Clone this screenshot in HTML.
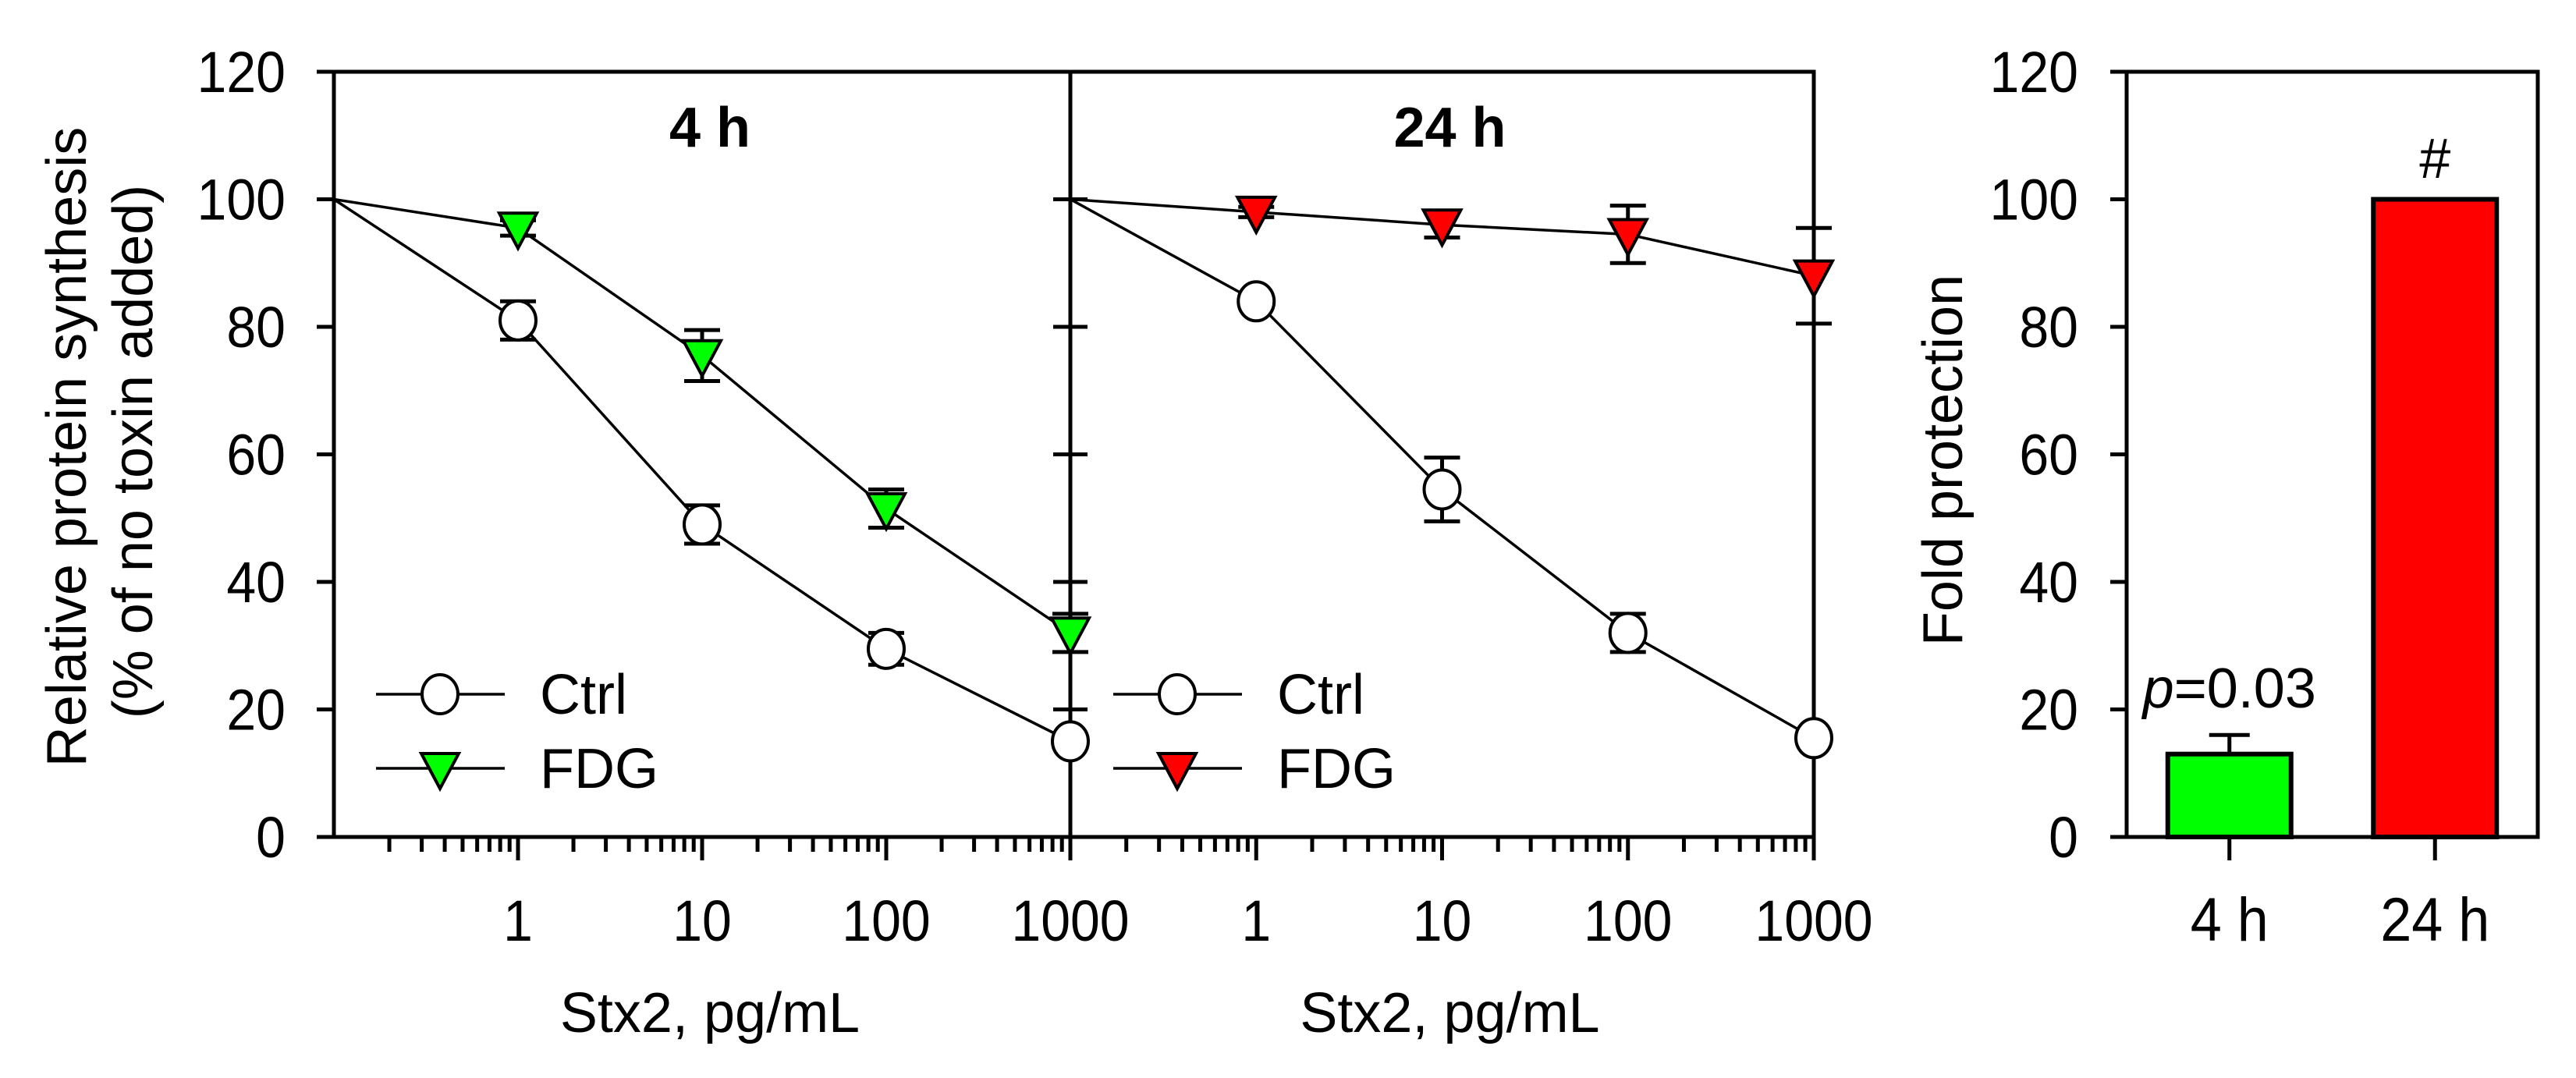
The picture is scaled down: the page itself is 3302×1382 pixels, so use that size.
<!DOCTYPE html>
<html><head><meta charset="utf-8"><style>
html,body{margin:0;padding:0;background:#fff;}
svg{display:block;font-family:"Liberation Sans",Arial,sans-serif;}
</style></head><body>
<svg id="chart" width="3302" height="1382" viewBox="0 0 3302 1382" xmlns="http://www.w3.org/2000/svg"></svg>
<script>
// ---- data ----
const doses = [0.1, 1, 10, 100, 1000];
const ctrl4 = [100, 81, 49, 29.5, 15];
const ctrl4Err = [0, 3, 3, 2.5, 1];
const fdg4 = [100, 95.5, 75.5, 51.5, 32];
const fdg4Err = [0, 1.2, 4, 3, 3];
const ctrl24 = [100, 84, 54.5, 32, 15.5];
const ctrl24Err = [0, 1, 5, 3, 1];
const fdg24 = [100, 98, 96, 94.5, 88];
const fdg24Err = [0, 0.8, 2, 4.5, 7.5];
const barCats = ["4 h", "24 h"];
const barVals = [13, 100];
const barErr = [3, 0];
const yTicks = [0, 20, 40, 60, 80, 100, 120];
const xTickLabels = ["1", "10", "100", "1000"];

const NS = "http://www.w3.org/2000/svg";
const svg = document.getElementById("chart");
function el(tag, attrs, parent) {
  const e = document.createElementNS(NS, tag);
  for (const k in attrs) e.setAttribute(k, attrs[k]);
  (parent || svg).appendChild(e);
  return e;
}
function txt(x, y, s, size, anchor, parent, extra, sy) {
  const t = el("text", Object.assign({x: 0, y: 0, "font-size": size, "text-anchor": anchor || "middle",
    transform: "translate(" + x + "," + y + ") scale(1," + (sy || 1) + ")"}, extra || {}), parent);
  t.textContent = s;
  return t;
}
const DF = 68, DSY = 1.09, TF = 72;
const Y0 = 1073, Y120 = 92;
function yS(v) { return Y0 - (Y0 - Y120) * v / 120; }
const panels = [
  {left: 428, right: 1372, title: "4 h", ctrl: ctrl4, ctrlErr: ctrl4Err, fdg: fdg4, fdgErr: fdg4Err, color: "#00ff00", legX: 482},
  {left: 1372, right: 2325, title: "24 h", ctrl: ctrl24, ctrlErr: ctrl24Err, fdg: fdg24, fdgErr: fdg24Err, color: "#ff0000", legX: 1427}
];
const SW = 5;
const axes = el("g", {stroke: "#000", "stroke-width": SW, fill: "none"});


el("rect", {x: 428, y: Y120, width: 2325 - 428, height: Y0 - Y120}, axes);
el("line", {x1: 1372, y1: Y120, x2: 1372, y2: Y0}, axes);
yTicks.forEach(v => {
  el("line", {x1: 406, y1: yS(v), x2: 428, y2: yS(v)}, axes);
  const t = txt(366, yS(v) + 26, String(v), DF, "end", null, null, DSY);
  
  
  if (v > 0 && v < 120) {
    el("line", {x1: 1350, y1: yS(v), x2: 1394, y2: yS(v)}, axes);
  }
});

panels.forEach((p, pi) => {
  const dec = (p.right - p.left) / 4;
  const xS = d => p.left + (Math.log10(d) + 1) * dec;
  const g = el("g", {});
  
  
  for (let e = -1; e < 3; e++) {
    for (let m = 2; m <= 9; m++) {
      const x = xS(m * Math.pow(10, e));
      el("line", {x1: x, y1: Y0, x2: x, y2: Y0 + 19, stroke: "#000", "stroke-width": SW}, g);
    }
  }
  doses.slice(1).forEach((d, i) => {
    el("line", {x1: xS(d), y1: Y0, x2: xS(d), y2: Y0 + 30, stroke: "#000", "stroke-width": SW}, g);
    const t = txt(xS(d), 1206, xTickLabels[i], DF, "middle", g, null, DSY);
    
    
  });
  const xt = txt((p.left + p.right) / 2 + 10, 1323, "Stx2, pg/mL", TF, "middle", g);
  
  
  const tt = txt((p.left + p.right) / 2 + 10, 188, p.title, TF, "middle", g, {"font-weight": "bold"});
  
  
  const series = [
    {vals: p.ctrl, err: p.ctrlErr, type: "circle", name: "ctrl"},
    {vals: p.fdg, err: p.fdgErr, type: "tri", name: "fdg"}
  ];
  series.forEach(s => {
    const pts = doses.map((d, i) => xS(d) + "," + yS(s.vals[i])).join(" ");
    const ln = el("polyline", {points: pts, fill: "none", stroke: "#000", "stroke-width": 3.5}, g);
    
    
    doses.forEach((d, i) => {
      if (i === 0) return;
      const x = xS(d), y = yS(s.vals[i]);
      if (s.err[i] > 0) {
        const yt = yS(s.vals[i] + s.err[i]), yb = yS(s.vals[i] - s.err[i]);
        el("line", {x1: x, y1: yt, x2: x, y2: yb, stroke: "#000", "stroke-width": SW}, g);
        el("line", {x1: x - 23, y1: yt, x2: x + 23, y2: yt, stroke: "#000", "stroke-width": SW}, g);
        el("line", {x1: x - 23, y1: yb, x2: x + 23, y2: yb, stroke: "#000", "stroke-width": SW}, g);
      }
      let m;
      if (s.type === "circle") {
        m = el("ellipse", {cx: x, cy: y, rx: 23, ry: 25, fill: "#fff", stroke: "#000", "stroke-width": 4}, g);
      } else {
        m = el("polygon", {points: (x - 24) + "," + (y - 19) + " " + (x + 24) + "," + (y - 19) + " " + x + "," + (y + 26), fill: p.color, stroke: "#000", "stroke-width": 4}, g);
      }
      
      
    });
  });
  const lg = el("g", {}, g);
  
  
  const lx = p.legX;
  el("line", {x1: lx, y1: 890, x2: lx + 165, y2: 890, stroke: "#000", "stroke-width": 3.5}, lg);
  el("ellipse", {cx: lx + 82, cy: 890, rx: 23, ry: 25, fill: "#fff", stroke: "#000", "stroke-width": 4}, lg);
  const l1 = txt(lx + 210, 915, "Ctrl", TF, "start", lg);
  
  
  el("line", {x1: lx, y1: 985, x2: lx + 165, y2: 985, stroke: "#000", "stroke-width": 3.5}, lg);
  el("polygon", {points: (lx + 58) + "," + 966 + " " + (lx + 106) + "," + 966 + " " + (lx + 82) + "," + 1011, fill: p.color, stroke: "#000", "stroke-width": 4}, lg);
  const l2 = txt(lx + 210, 1010, "FDG", TF, "start", lg);
  
  
});

const yt1 = el("text", {x: 0, y: 0, "font-size": TF, "text-anchor": "middle", transform: "translate(110,573) rotate(-90)"});
yt1.textContent = "Relative protein synthesis";


const yt2 = el("text", {x: 0, y: 0, "font-size": TF, "text-anchor": "middle", transform: "translate(195,579) rotate(-90)"});
yt2.textContent = "(% of no toxin added)";



// ---- bar panel ----
const BL = 2726, BR = 3253;
const bg = el("g", {});


el("rect", {x: BL, y: Y120, width: BR - BL, height: Y0 - Y120, fill: "none", stroke: "#000", "stroke-width": SW}, bg);
yTicks.forEach(v => {
  el("line", {x1: 2705, y1: yS(v), x2: BL, y2: yS(v), stroke: "#000", "stroke-width": SW}, bg);
  const t = txt(2664, yS(v) + 26, String(v), DF, "end", bg, null, DSY);
  
  
});
const fbt = el("text", {x: 0, y: 0, "font-size": TF, "text-anchor": "middle", transform: "translate(2515,590) rotate(-90)"}, bg);
fbt.textContent = "Fold protection";


const slot = (BR - BL) / 2;
const barW = 158;
const colors = ["#00ff00", "#ff0000"];
barCats.forEach((c, i) => {
  const cx = BL + slot * (i + 0.5);
  const top = yS(barVals[i]);
  if (barErr[i] > 0) {
    const ye = yS(barVals[i] + barErr[i]);
    el("line", {x1: cx, y1: ye, x2: cx, y2: top, stroke: "#000", "stroke-width": SW}, bg);
    el("line", {x1: cx - 26, y1: ye, x2: cx + 26, y2: ye, stroke: "#000", "stroke-width": SW}, bg);
  }
  const r = el("rect", {x: cx - barW / 2, y: top, width: barW, height: Y0 - top, fill: colors[i], stroke: "#000", "stroke-width": 6}, bg);
  
  
  el("line", {x1: cx, y1: Y0, x2: cx, y2: Y0 + 30, stroke: "#000", "stroke-width": SW}, bg);
  const t = txt(cx, 1206, c, TF, "middle", bg, null, DSY);
  
  
});
const cx0 = BL + slot * 0.5, cx1 = BL + slot * 1.5;
const pt = el("text", {x: 0, y: 0, "font-size": TF, "text-anchor": "middle", transform: "translate(" + cx0 + ",907)"}, bg);
pt.innerHTML = '<tspan font-style="italic">p</tspan>=0.03';


const hs = txt(cx1, 228, "#", TF, "middle", bg);


</script>
</body></html>
